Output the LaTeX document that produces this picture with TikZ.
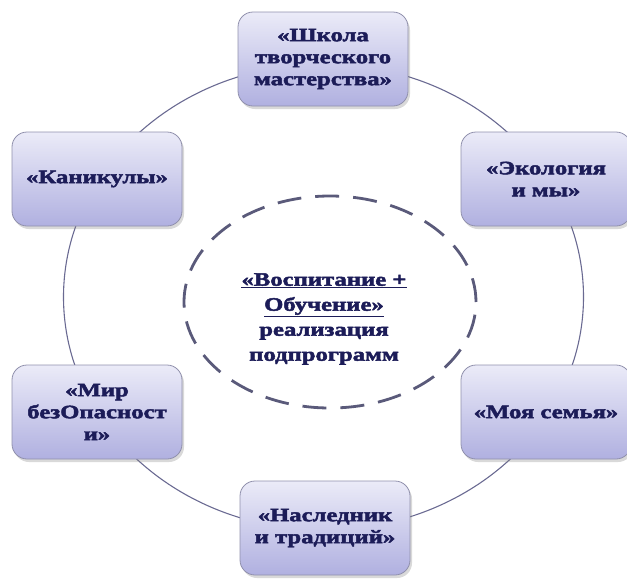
\documentclass[tikz,border=0pt]{standalone}
\usepackage{fontspec}
\usetikzlibrary{shadows}
\newfontfamily\bx[FakeStretch=1.3,FakeBold=2.5]{Liberation Serif}
\definecolor{txt}{HTML}{1C1C58}
\definecolor{boxtop}{HTML}{EBEBF8}
\definecolor{boxbot}{HTML}{B0B0E0}
\definecolor{boxline}{HTML}{9090AC}
\definecolor{ringcol}{HTML}{6A6A92}
\definecolor{dashcol}{HTML}{5A5A7A}
\tikzset{
  topic/.style={draw=boxline, line width=0.8pt, rounded corners=15pt,
    top color=boxtop, bottom color=boxbot,
    minimum width=170pt, minimum height=94pt, align=center,
    text=txt, font=\bx\bfseries\fontsize{19}{22}\selectfont,
    drop shadow={opacity=0.3, shadow xshift=2pt, shadow yshift=-3pt}},
  core/.style={align=center, text=txt, font=\bx\bfseries\fontsize{19}{25}\selectfont}
}
\begin{document}
\begin{tikzpicture}[x=1pt,y=-1pt]
\useasboundingbox (0,0) rectangle (627,579);
\draw[ringcol, line width=1.1pt] (323.5,297) ellipse [x radius=260pt, y radius=233pt];
\draw[dashcol, line width=2.8pt, dash pattern=on 24pt off 14pt] (330,302) ellipse [x radius=146pt, y radius=106pt];
\node[core] (c) at (324,319) {\underline{«Воспитание +}\\\underline{Обучение»}\\реализация\\подпрограмм};
\node[topic] (t) at (323,59) {«Школа\\творческого\\мастерства»};
\node[topic] (rt) at (546,179) {«Экология\\и мы»};
\node[topic] (rb) at (546,412) {«Моя семья»};
\node[topic] (b) at (325,528) {«Наследник\\и традиций»};
\node[topic] (lb) at (97,412) {«Мир\\безОпасност\\и»};
\node[topic] (lt) at (97,179) {«Каникулы»};
\end{tikzpicture}
\end{document}
